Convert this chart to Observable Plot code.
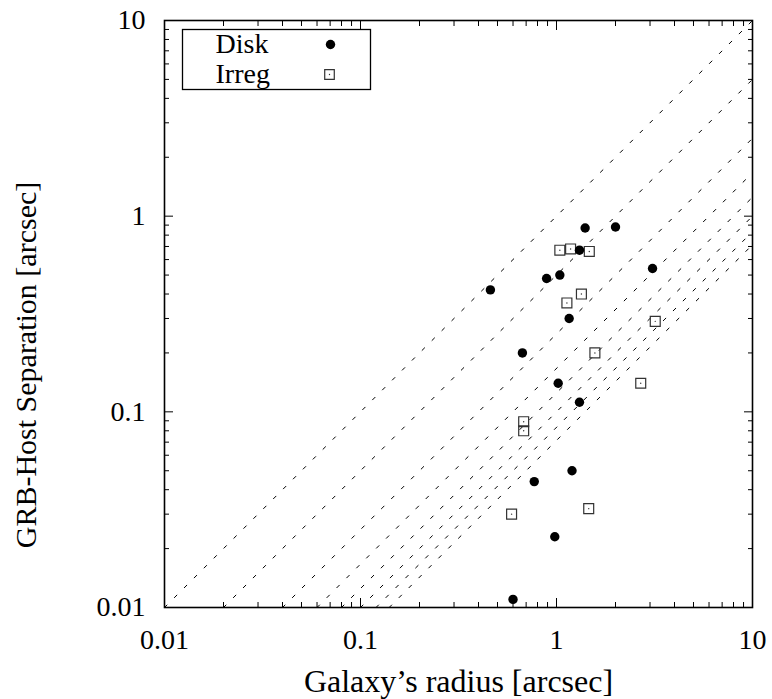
<!DOCTYPE html>
<html>
<head>
<meta charset="utf-8">
<script src="https://cdn.jsdelivr.net/npm/d3@7"></script>
<script src="https://cdn.jsdelivr.net/npm/@observablehq/plot@0.6"></script>
<style>
  html, body { margin: 0; padding: 0; background: white; }
</style>
</head>
<body>
<div id="chart"></div>
<script>
// Disk galaxies: radius [arcsec] and GRB-host separation [arcsec]
const diskRadius = [0.46, 0.67, 0.89, 1.04, 1.16, 1.31, 1.40, 2.00, 3.09, 1.02, 1.31, 0.77, 1.20, 0.98, 0.60];
const diskSep    = [0.42, 0.20, 0.48, 0.50, 0.30, 0.67, 0.87, 0.88, 0.54, 0.140, 0.112, 0.044, 0.050, 0.023, 0.011];
// Irregular galaxies
const irregRadius = [1.04, 1.18, 1.47, 1.34, 1.13, 3.19, 1.57, 2.69, 0.68, 0.68, 0.59, 1.46];
const irregSep    = [0.67, 0.68, 0.66, 0.40, 0.36, 0.29, 0.20, 0.14, 0.089, 0.080, 0.030, 0.032];
// Reference lines: separation = radius / k
const ratios = [1, 2, 4, 6, 8, 10, 12, 14];
// Axis ticks
const majorTicks = [0.01, 0.1, 1, 10];
const majorLabels = ["0.01", "0.1", "1", "10"];
const legendNames = ["Disk", "Irreg"];
const xTitle = "Galaxy\u2019s radius [arcsec]";
const yTitle = "GRB-Host Separation [arcsec]";

const minorTicks = [];
for (const d of [0.01, 0.1, 1]) for (let m = 2; m <= 9; m++) minorTicks.push(+(d * m).toPrecision(3));

const disk = diskRadius.map((r, i) => ({r, s: diskSep[i]}));
const irreg = irregRadius.map((r, i) => ({r, s: irregSep[i]}));
const lineData = ratios.flatMap(k => [{k, x: 0.01 * k, y: 0.01}, {k, x: 10, y: 10 / k}]);

const fmt = d => majorLabels[majorTicks.indexOf(d)] ?? "";
const blank = () => "";
const font = "Liberation Serif, Times New Roman, serif";

const chart = Plot.plot({
  width: 772,
  height: 699,
  marginLeft: 164,
  marginRight: 20,
  marginTop: 20,
  marginBottom: 92,
  style: {fontFamily: font, fontSize: "28px", background: "white", color: "black"},
  x: {type: "log", domain: [0.01, 10], label: null},
  y: {type: "log", domain: [0.01, 10], label: null},
  marks: [
    Plot.line(lineData, {x: "x", y: "y", z: "k", stroke: "black", strokeWidth: 1, strokeDasharray: "3.5,10.5"}),
    // tick labels
    Plot.axisX({ticks: majorTicks, tickSize: 0, tickPadding: 22, tickFormat: fmt, label: null, fontSize: 28}),
    Plot.axisY({ticks: majorTicks, tickSize: 0, tickPadding: 19, tickFormat: fmt, label: null, fontSize: 28}),
    // inward ticks, all four sides
    Plot.axisX({ticks: majorTicks, anchor: "bottom", tickSize: -9, tickFormat: blank, label: null}),
    Plot.axisX({ticks: minorTicks, anchor: "bottom", tickSize: -5, tickFormat: blank, label: null}),
    Plot.axisX({ticks: majorTicks, anchor: "top", tickSize: -9, tickFormat: blank, label: null}),
    Plot.axisX({ticks: minorTicks, anchor: "top", tickSize: -5, tickFormat: blank, label: null}),
    Plot.axisY({ticks: majorTicks, anchor: "left", tickSize: -9, tickFormat: blank, label: null}),
    Plot.axisY({ticks: minorTicks, anchor: "left", tickSize: -5, tickFormat: blank, label: null}),
    Plot.axisY({ticks: majorTicks, anchor: "right", tickSize: -9, tickFormat: blank, label: null}),
    Plot.axisY({ticks: minorTicks, anchor: "right", tickSize: -5, tickFormat: blank, label: null}),
    Plot.frame({stroke: "black", strokeWidth: 1.6}),
    // axis titles
    Plot.text([xTitle], {frameAnchor: "bottom", dy: 74, text: d => d, fontSize: 32, textAnchor: "middle", lineAnchor: "middle"}),
    Plot.text([yTitle], {frameAnchor: "left", dx: -138, dy: 51, rotate: -90, text: d => d, fontSize: 30, textAnchor: "middle", lineAnchor: "middle"}),
    // legend
    Plot.frame({stroke: "black", strokeWidth: 1.3, insetLeft: 18, insetTop: 9, insetRight: 382, insetBottom: 518}),
    Plot.text([legendNames[0]], {frameAnchor: "top-left", dx: 51, dy: 24, text: d => d, textAnchor: "start", fontSize: 28, lineAnchor: "middle"}),
    Plot.text([legendNames[1]], {frameAnchor: "top-left", dx: 51, dy: 54, text: d => d, textAnchor: "start", fontSize: 28, lineAnchor: "middle"}),
    Plot.dot([legendNames[0]], {frameAnchor: "top-left", dx: 166, dy: 24, r: 4.7, fill: "black", stroke: "none"}),
    Plot.dot([legendNames[1]], {frameAnchor: "top-left", dx: 165, dy: 54, r: 5.4, symbol: "square", fill: "white", stroke: "#333", strokeWidth: 1.2}),
    Plot.dot([legendNames[1]], {frameAnchor: "top-left", dx: 165, dy: 54, r: 0.7, fill: "#333", stroke: "none"}),
    // data
    Plot.dot(irreg, {x: "r", y: "s", r: 5.6, symbol: "square", fill: "none", stroke: "#333", strokeWidth: 1.2}),
    Plot.dot(irreg, {x: "r", y: "s", r: 0.7, fill: "#333", stroke: "none"}),
    Plot.dot(disk, {x: "r", y: "s", r: 4.7, fill: "black", stroke: "none"})
  ]
});
document.getElementById("chart").appendChild(chart);
</script>
</body>
</html>
